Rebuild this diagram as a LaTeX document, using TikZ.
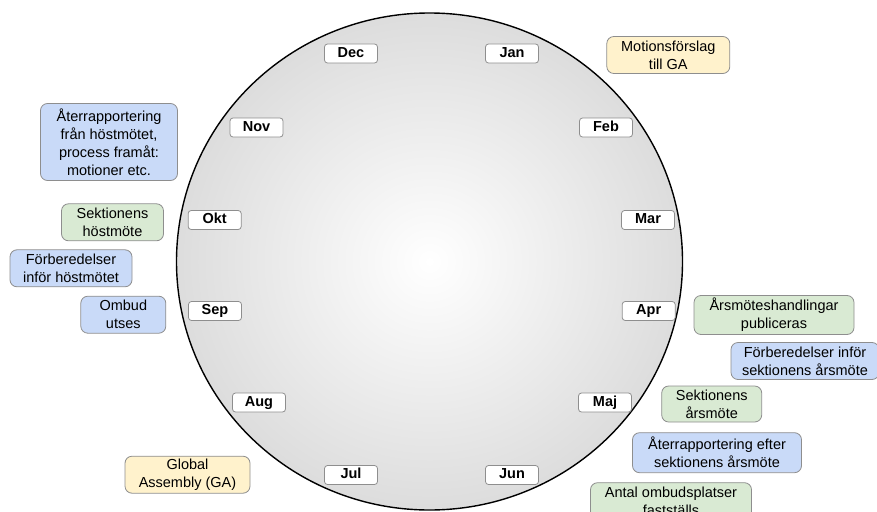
\documentclass[tikz,border=0pt]{standalone}
\usepackage{fontspec}
\setmainfont{Liberation Sans}
\usetikzlibrary{shapes.geometric}
\definecolor{gaYellow}{HTML}{FFF2CC}
\definecolor{procBlue}{HTML}{C9DAF8}
\definecolor{mtgGreen}{HTML}{D9EAD3}
\definecolor{boxLine}{HTML}{8E8E8E}
\pgfdeclareradialshading{clockShade}{\pgfpoint{0bp}{0bp}}{color(0bp)=(white); color(50bp)=(black!27)}
\tikzstyle{wheel} = [ellipse, minimum width=506pt, minimum height=497pt, inner sep=0pt, draw=black, line width=1.4pt, shading=clockShade]
\tikzstyle{month} = [rectangle, rounded corners=3pt, minimum width=53pt, minimum height=19pt, inner sep=0pt, text height=10.5pt, text depth=3pt, text centered, draw=boxLine, line width=0.8pt, fill=white, font=\fontsize{14.5}{17}\selectfont\bfseries]
\tikzstyle{event} = [rectangle, rounded corners=7pt, inner sep=0pt, align=center, draw=boxLine, line width=0.8pt, font=\fontsize{14.5}{18}\selectfont]
\tikzstyle{yBox} = [event, fill=gaYellow]
\tikzstyle{bBox} = [event, fill=procBlue]
\tikzstyle{gBox} = [event, fill=mtgGreen]

\begin{document}
\begin{tikzpicture}[x=1pt, y=-1pt]
        \useasboundingbox (0,0) rectangle (877,511);
        \clip (0,0) rectangle (877,511);

        \node[wheel] (wheel) at (429.5,261.5) {};

        \foreach \m/\x/\y in {Dec/351/53.5, Jan/512/53.5, Nov/256.5/127.5, Feb/606/127.5, Okt/214.7/220, Mar/648/220, Sep/215/311, Apr/648.7/311, Aug/259/402.5, Maj/605/402.5, Jul/351/475, Jun/512/475}
        {\node[month] (\m) at (\x,\y) {\m};}

        \node[yBox, minimum width=123pt, minimum height=37pt] (motion) at (668.3,55) {Motionsförslag\\till GA};
        \node[bBox, minimum width=137pt, minimum height=77pt] (aterHost) at (109,142) {Återrapportering\\från höstmötet,\\process framåt:\\motioner etc.};
        \node[gBox, minimum width=102pt, minimum height=37pt] (sektHost) at (112.5,222.3) {Sektionens\\höstmöte};
        \node[bBox, minimum width=122pt, minimum height=37pt] (forbHost) at (71,268.3) {Förberedelser\\inför höstmötet};
        \node[bBox, minimum width=85pt, minimum height=37pt] (ombud) at (123.3,314.7) {Ombud\\utses};
        \node[yBox, minimum width=125pt, minimum height=37pt] (globalAss) at (187.5,474.7) {Global\\Assembly (GA)};

        \node[gBox, minimum width=160pt, minimum height=39pt] (arsHandl) at (774,315) {Årsmöteshandlingar\\publiceras};
        \node[bBox, minimum width=148pt, minimum height=37pt] (forbArs) at (805,361) {Förberedelser inför\\sektionens årsmöte};
        \node[gBox, minimum width=100pt, minimum height=36pt] (sektArs) at (711.7,404) {Sektionens\\årsmöte};
        \node[bBox, minimum width=169pt, minimum height=40pt] (aterArs) at (717,452.7) {Återrapportering efter\\sektionens årsmöte};
        \node[gBox, minimum width=161pt, minimum height=37pt] (antal) at (671,501.2) {Antal ombudsplatser\\fastställs};
\end{tikzpicture}
\end{document}
